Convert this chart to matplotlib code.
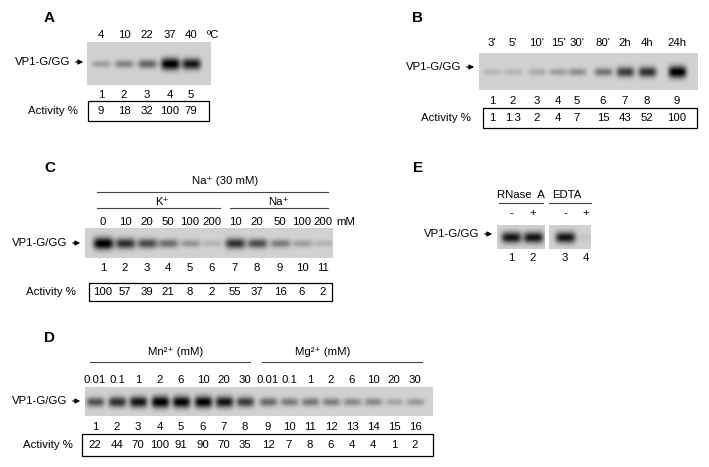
import numpy as np
import matplotlib
matplotlib.use('Agg')
import matplotlib.pyplot as plt
from matplotlib.patches import Rectangle

# ---- data ----
tempA = ['4', '10', '22', '37', '40']
actA = [9, 18, 32, 100, 79]
timeB = ["3'", "5'", "10'", "15'", "30'", "80'", "2h", "4h", "24h"]
actB = ['1', '1.3', '2', '4', '7', '15', '43', '52', '100']
concC = ['0', '10', '20', '50', '100', '200', '10', '20', '50', '100', '200']
actC = [100, 57, 39, 21, 8, 2, 55, 37, 16, 6, 2]
concD = ['0.01', '0.1', '1', '2', '6', '10', '20', '30',
         '0.01', '0.1', '1', '2', '6', '10', '20', '30']
actD = [22, 44, 70, 100, 91, 90, 70, 35, 12, 7, 8, 6, 4, 4, 1, 2]
signE = ['-', '+', '-', '+']
bandE = [80, 80, 80, 1]

W, H = 709, 467
fig = plt.figure(figsize=(W/100, H/100), dpi=100)
ax = fig.add_axes([0, 0, 1, 1])
ax.set_xlim(0, W)
ax.set_ylim(H, 0)
ax.axis('off')

fs = 8.2
def txt(x, y, s, ha='center', **kw):
    ax.text(x, y, s, ha=ha, va='center', fontsize=kw.pop('size', fs),
            family=['Liberation Sans', 'DejaVu Sans'], **kw)

def gel(x0, x1, y0, y1, lanes, vals, bw=16, bh=6, gamma=0.6):
    nx, ny = int(x1 - x0), int(y1 - y0)
    xx, yy = np.meshgrid(np.arange(nx) + x0, np.arange(ny) + y0)
    img = np.full((ny, nx), 0.82)
    yc = (y0 + y1) / 2
    for lx, v in zip(lanes, vals):
        a = (v / 100.0) ** gamma
        prof = np.exp(-((xx - lx) / (bw / 2)) ** 4 - ((yy - yc) / (bh / 2 + 3 * a)) ** 2)
        img = img - 0.85 * a * prof
    ax.imshow(np.clip(img, 0, 1), cmap='gray', vmin=0, vmax=1,
              extent=[x0, x1, y1, y0], aspect='auto', interpolation='bilinear')

def label(xr, y):
    txt(xr - 16, y, 'VP1-G/GG', ha='right')
    ax.annotate('', xy=(xr, y), xytext=(xr - 13, y),
                arrowprops=dict(arrowstyle='-|>', color='black', lw=0.9,
                                mutation_scale=7))

def box(x0, x1, y0, y1):
    ax.add_patch(Rectangle((x0, y0), x1 - x0, y1 - y0, fill=False, lw=0.9, ec='black'))

def hline(x0, x1, y):
    ax.plot([x0, x1], [y, y], color='#444444', lw=0.8)

# ---- A ----
txt(44, 18, 'A', ha='left', size=11, weight='bold')
xa = [101, 124, 147, 170, 191]
for x, t in zip(xa, tempA):
    txt(x, 35, t)
txt(213, 35, 'ºC')
gel(87, 211, 42, 85, xa, actA, bw=19)
label(86, 62)
for i, (x, v) in enumerate(zip(xa, actA)):
    txt(x, 95, str(i + 1))
    txt(x, 111, str(v))
box(88, 209, 101, 121)
txt(78, 111, 'Activity %', ha='right')

# ---- B ----
txt(412, 18, 'B', ha='left', size=11, weight='bold')
xb = [492, 513, 537, 558, 577, 603, 625, 647, 677]
for x, t in zip(xb, timeB):
    txt(x, 43, t)
gel(479, 698, 53, 90, xb, [float(v) for v in actB], bw=18, gamma=0.45)
label(477, 67)
for i, (x, v) in enumerate(zip(xb, actB)):
    txt(x, 101, str(i + 1))
    txt(x, 118, v)
box(483, 697, 108, 128)
txt(471, 118, 'Activity %', ha='right')

# ---- C ----
txt(44, 168, 'C', ha='left', size=11, weight='bold')
txt(225, 181, 'Na⁺ (30 mM)')
hline(97, 328, 192)
txt(162, 202, 'K⁺')
hline(97, 220, 208)
txt(278, 202, 'Na⁺')
hline(230, 328, 208)
xc = [103, 125, 147, 168, 190, 212, 235, 257, 280, 302, 323]
for x, t in zip(xc, concC):
    txt(x, 222, t)
txt(346, 222, 'mM')
gel(85, 333, 228, 258, xc, actC, bw=20, gamma=0.5)
label(83, 243)
for i, (x, v) in enumerate(zip(xc, actC)):
    txt(x, 268, str(i + 1))
    txt(x, 292, str(v))
box(89, 332, 283, 301)
txt(76, 292, 'Activity %', ha='right')

# ---- E ----
txt(413, 168, 'E', ha='left', size=11, weight='bold')
xe = [511, 533, 565, 586]
txt(521, 195, 'RNase  A')
hline(499, 543, 203)
txt(567, 195, 'EDTA')
hline(549, 591, 203)
for x, s in zip(xe, signE):
    txt(x, 213, s)
gel(497, 545, 225, 249, xe[:2], bandE[:2], bw=20)
gel(549, 591, 225, 249, xe[2:], bandE[2:], bw=20)
label(495, 234)
for i, x in enumerate(xe):
    txt(x, 258, str(i + 1))

# ---- D ----
txt(44, 338, 'D', ha='left', size=11, weight='bold')
txt(176, 352, 'Mn²⁺ (mM)')
hline(90, 250, 362)
txt(323, 352, 'Mg²⁺ (mM)')
hline(262, 422, 362)
xd = [95, 117, 138, 160, 181, 203, 224, 245, 268, 289, 310, 331, 352, 373, 394, 415]
for x, t in zip(xd, concD):
    txt(x, 380, t)
gel(85, 433, 387, 416, xd, actD, bw=18, gamma=0.35)
label(83, 401)
for i, (x, v) in enumerate(zip(xd, actD)):
    txt(x, 427, str(i + 1))
    txt(x, 445, str(v))
box(82, 433, 434, 456)
txt(73, 445, 'Activity %', ha='right')

plt.savefig('out.png', dpi=100)
